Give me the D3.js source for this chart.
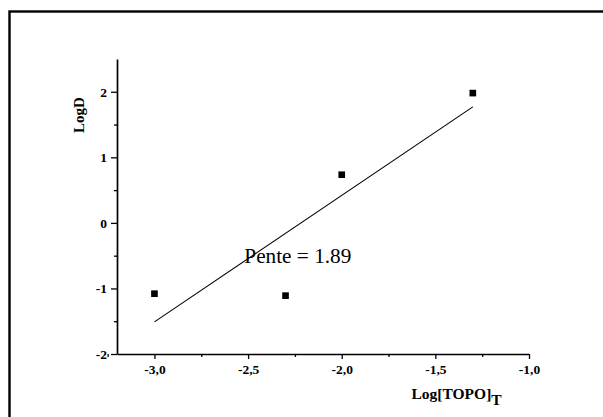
<!DOCTYPE html>
<html>
<head>
<meta charset="utf-8">
<script src="https://cdn.jsdelivr.net/npm/d3@7"></script>
<style>
  body { margin: 0; background: #fff; }
  svg { display: block; }
  svg text { font-family: "Liberation Serif", "Times New Roman", serif; }
</style>
</head>
<body>
<svg id="canvas"></svg>
<script>
    // values
    const logTopo = [-3.0, -2.3, -2.0, -1.3];
    const logD = [-1.08, -1.11, 0.735, 1.98];
    const fitX = [-3.0, -1.3];
    const fitY = [-1.51, 1.77];
    const xMajor = [-3.0, -2.5, -2.0, -1.5, -1.0];
    const xMinor = [-3.25, -2.75, -2.25, -1.75, -1.25];
    const yMajor = [-2, -1, 0, 1, 2];
    const yMinor = [-1.5, -0.5, 0.5, 1.5];

    const width = 603;
    const height = 417;
    const margin = { top: 59, right: 74, bottom: 63, left: 117 };

    const svg = d3.select("#canvas")
      .attr("width", width)
      .attr("height", height);

    // outer frame, right and bottom run off the page
    svg.append("rect")
      .attr("x", 9.5)
      .attr("y", 11.5)
      .attr("width", 620)
      .attr("height", 440)
      .attr("fill", "none")
      .attr("stroke", "#000")
      .attr("stroke-width", 2.4);

    const chartWidth = width - margin.left - margin.right;
    const chartHeight = height - margin.top - margin.bottom;

    const chartArea = svg.append("g")
      .attr("transform", `translate(${margin.left},${margin.top})`);

    const x = d3.scaleLinear()
      .domain([-3.2, -1.0])
      .range([0, chartWidth]);

    const y = d3.scaleLinear()
      .domain([-2, 2.5])
      .range([chartHeight, 0]);

    const fmt = d => d3.format(".1f")(d).replace("−", "-").replace(".", ",");

    // minor ticks first
    chartArea.append("g")
      .attr("transform", `translate(0, ${chartHeight})`)
      .call(d3.axisBottom(x).tickValues(xMinor).tickSize(3).tickSizeOuter(0).tickFormat(""))
      .call(g => g.select(".domain").remove());

    chartArea.append("g")
      .call(d3.axisLeft(y).tickValues(yMinor).tickSize(3).tickSizeOuter(0).tickFormat(""))
      .call(g => g.select(".domain").remove());

    const xAxis = chartArea.append("g")
      .attr("transform", `translate(0, ${chartHeight})`)
      .call(d3.axisBottom(x).tickValues(xMajor).tickSize(5).tickSizeOuter(0)
        .tickPadding(5).tickFormat(fmt));

    const yAxis = chartArea.append("g")
      .call(d3.axisLeft(y).tickValues(yMajor).tickSize(6).tickSizeOuter(0)
        .tickPadding(4).tickFormat(d => String(d)));

    [xAxis, yAxis].forEach(g => {
      g.attr("font-family", null).attr("font-size", null);
      g.selectAll("text")
        .style("font-size", "13.5px")
        .style("font-weight", "bold")
        .attr("fill", "#000");
    });

    chartArea.selectAll(".domain").attr("stroke-width", 1.7);
    chartArea.selectAll(".tick line").attr("stroke-width", 1.3);

    // fitted line
    chartArea.append("line")
      .attr("x1", x(fitX[0]))
      .attr("y1", y(fitY[0]))
      .attr("x2", x(fitX[1]))
      .attr("y2", y(fitY[1]))
      .attr("stroke", "#000")
      .attr("stroke-width", 1.1);

    chartArea.selectAll(".pt")
      .data(logTopo)
      .enter().append("path")
        .attr("class", "pt")
        .attr("d", d3.symbol(d3.symbolSquare, 44))
        .attr("transform", (d, i) => `translate(${x(d)},${y(logD[i])})`)
        .attr("fill", "#000");

    chartArea.append("text")
      .attr("x", x(-2.52))
      .attr("y", y(-0.605))
      .attr("font-size", 20)
      .attr("textLength", 107)
      .attr("lengthAdjust", "spacingAndGlyphs")
      .text("Pente = 1.89");

    // axis titles
    const xt = svg.append("text")
      .attr("x", 411.5)
      .attr("y", 398.5)
      .attr("font-weight", "bold")
      .attr("font-size", 15.5)
      .text("Log[TOPO]");
    xt.append("tspan")
      .attr("dy", 6.5)
      .text("T");

    svg.append("text")
      .attr("transform", "translate(84, 115) rotate(-90)")
      .attr("text-anchor", "middle")
      .attr("font-weight", "bold")
      .attr("font-size", 15)
      .text("LogD");
</script>
</body>
</html>
